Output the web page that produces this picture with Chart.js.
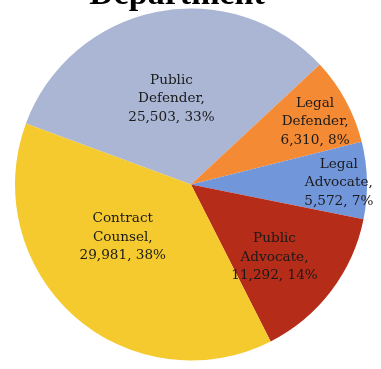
<!DOCTYPE html>
<html>
<head>
<meta charset="utf-8">
<script src="https://cdn.jsdelivr.net/npm/chart.js@4.4.0/dist/chart.umd.min.js"></script>
<style>
  body { margin: 0; background: #fff; }
  #wrap { width: 381px; height: 369px; }
</style>
</head>
<body>
<div id="wrap"><canvas id="chart1"></canvas></div>
<script>
const categories = ['Public Defender', 'Legal Defender', 'Legal Advocate', 'Public Advocate', 'Contract Counsel'];
const cases = [25503, 6310, 5572, 11292, 29981];
const percents = [33, 8, 7, 14, 38];
const sliceColors = ['#aab6d4', '#f58a35', '#7296da', '#b52c19', '#f4ca2e'];

// label spot per slice: fraction of radius, angle offset in degrees
const labelSpots = [[0.50, -1.5], [0.79, 1.7], [0.84, 0.7], [0.63, 3.9], [0.49, 10.6]];

let ctx = document.getElementById('chart1').getContext('2d');

function splitName(name){
    const words = name.split(' ');
    return [words[0], words.slice(1).join(' ') + ','];
}

const sliceLabels = {
    id: 'sliceLabels',
    afterDatasetsDraw(chart){
        const c = chart.ctx;
        const meta = chart.getDatasetMeta(0);
        c.save();
        c.font = '13.6px "DejaVu Serif"';
        c.fillStyle = '#1a1a1a';
        c.textAlign = 'center';
        c.textBaseline = 'middle';
        meta.data.forEach(function(arc, i){
            const mid = (arc.startAngle + arc.endAngle) / 2 + labelSpots[i][1] * Math.PI / 180;
            const r = arc.outerRadius * labelSpots[i][0];
            const x = arc.x + Math.cos(mid) * r;
            const y = arc.y + Math.sin(mid) * r;
            const lines = splitName(categories[i]);
            lines.push(cases[i].toLocaleString('en-US') + ', ' + percents[i] + '%');
            lines.forEach(function(t, k){
                c.fillText(t, x, y + (k - 1) * 18.5);
            });
        });
        c.restore();
    }
};

const cutTitle = {
    id: 'cutTitle',
    afterDraw(chart){
        const c = chart.ctx;
        c.save();
        c.font = 'bold 34px "Liberation Serif"';
        c.fillStyle = '#000';
        c.textAlign = 'center';
        c.textBaseline = 'alphabetic';
        c.fillText('Department', 177, 4);
        c.restore();
    }
};

let myChart = new Chart(ctx, {
    type: 'pie',
    data: {
        labels: categories,
        datasets: [{
            data: cases,
            backgroundColor: sliceColors,
            borderWidth: 0
        }]
    },
    options: {
        responsive: true,
        maintainAspectRatio: false,
        animation: false,
        rotation: -69.7,
        layout: { padding: { left: 15, right: 14, top: 8, bottom: 8 } },
        plugins: {
            legend: { display: false },
            tooltip: { enabled: false }
        }
    },
    plugins: [sliceLabels, cutTitle]
});
</script>
</body>
</html>
